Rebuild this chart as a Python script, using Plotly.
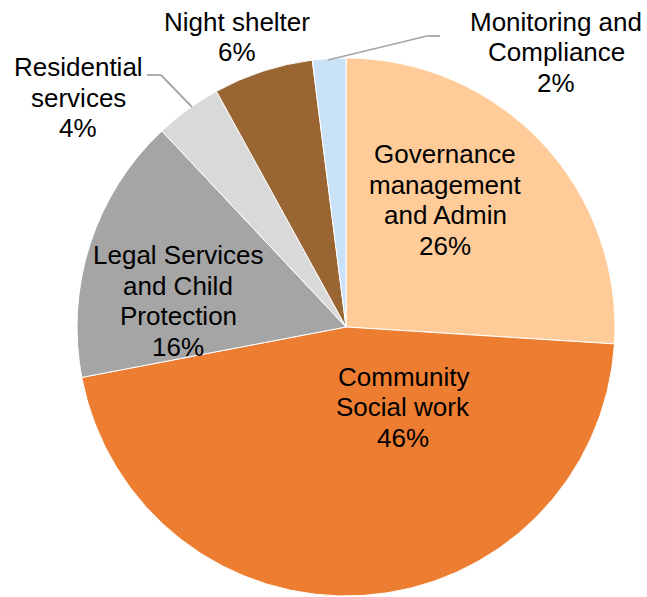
import plotly.graph_objects as go

# Budget share by programme area (percent), clockwise from 12 o'clock
categories = [
    "Governance management and Admin",
    "Community Social work",
    "Legal Services and Child Protection",
    "Residential services",
    "Night shelter",
    "Monitoring and Compliance",
]
values = [26, 46, 16, 4, 6, 2]
label_lines = [
    ["Governance", "management", "and Admin"],
    ["Community", "Social work"],
    ["Legal Services", "and Child", "Protection"],
    ["Residential", "services"],
    ["Night shelter"],
    ["Monitoring and", "Compliance"],
]
colors = ["#FFCC99", "#ED7D31", "#A5A5A5", "#D9D9D9", "#996633", "#C9E2F8"]

W, H = 647, 597
ML, MR, MT, MB = 76, 31, 58, 1
PW, PH = W - ML - MR, H - MT - MB


def px_to_paper(x, y):
    return (x - ML) / PW, (H - MB - y) / PH


fig = go.Figure(
    go.Pie(
        labels=categories,
        values=values,
        sort=False,
        direction="clockwise",
        rotation=0,
        marker=dict(colors=colors, line=dict(color="white", width=1)),
        textinfo="none",
        hoverinfo="label+percent",
        showlegend=False,
    )
)

# label block centres (pixels) and line spacing
label_centres = [(445, 200), (403, 407), (178, 301), (78, 98), (237, 37), (556, 52)]
LINE_GAP = 30.5
FONT = dict(family="Liberation Sans, Arial, sans-serif", size=26, color="#000000")

annotations = []
for lines, v, (cx, cy) in zip(label_lines, values, label_centres):
    rows = lines + [f"{v}%"]
    n = len(rows)
    for i, row in enumerate(rows):
        yy = cy + (i - (n - 1) / 2) * LINE_GAP
        xp, yp = px_to_paper(cx, yy)
        annotations.append(
            dict(
                x=xp, y=yp, xref="paper", yref="paper",
                text=row, showarrow=False, font=FONT,
                xanchor="center", yanchor="middle",
            )
        )

# leader lines for the two thin slices
shapes = []
leaders = [
    [(147, 75), (161, 75), (192, 107)],
    [(440, 36), (427, 36), (328, 60)],
]
for pts in leaders:
    for (x0, y0), (x1, y1) in zip(pts[:-1], pts[1:]):
        a0, b0 = px_to_paper(x0, y0)
        a1, b1 = px_to_paper(x1, y1)
        shapes.append(
            dict(type="line", xref="paper", yref="paper",
                 x0=a0, y0=b0, x1=a1, y1=b1,
                 line=dict(color="#A6A6A6", width=1.8))
        )

fig.update_layout(
    width=W,
    height=H,
    margin=dict(l=ML, r=MR, t=MT, b=MB),
    paper_bgcolor="white",
    plot_bgcolor="white",
    annotations=annotations,
    shapes=shapes,
)

fig.write_html("out.html")
